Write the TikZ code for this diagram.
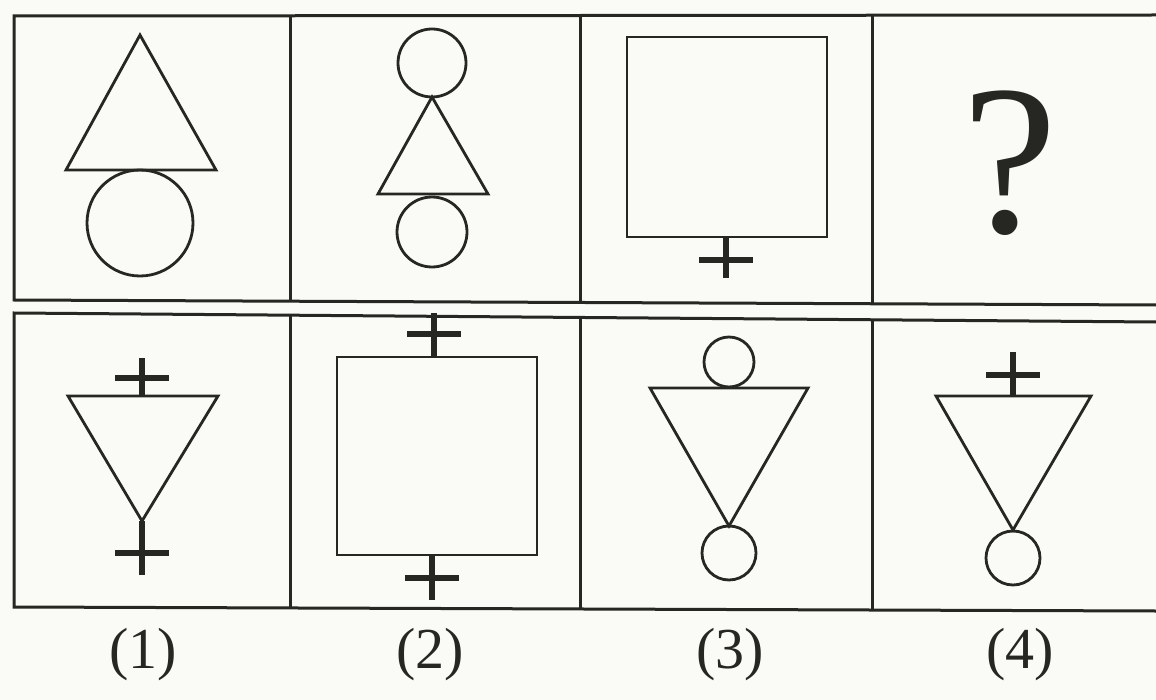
\documentclass[tikz,border=0pt]{standalone}
\usepackage{fontspec}
\setmainfont{Liberation Serif}
\definecolor{ink}{RGB}{38,38,34}
\definecolor{paper}{RGB}{250,250,247}

\begin{document}
\begin{tikzpicture}[x=0.5pt,y=-0.5pt,
  frame/.style={draw=ink,line width=1.5pt},
  figline/.style={draw=ink,line width=1.4pt},
  plus/.style={draw=ink,line width=3pt},
  lbl/.style={font=\fontsize{29}{30}\selectfont,text=ink}]
  % page
  \fill[paper] (0,0) rectangle (1156,700);
  \useasboundingbox (0,0) rectangle (1156,700);
  % row frames, cut off at the right edge
  \draw[frame] (1156,15) -- (14,16) -- (14,300) -- (1156,305);
  \draw[frame] (1156,322) -- (14,313) -- (14,607) -- (1156,611);
  % column rules: x, row 1 top/bottom, row 2 top/bottom
  \foreach \x/\ya/\yb/\yc/\yd in {290/16/301/315/608,580/16/303/317/609,872/15/304/319/610}{
    \draw[frame] (\x,\ya) -- (\x,\yb);
    \draw[frame] (\x,\yc) -- (\x,\yd);
  }
  % question row
  \draw[figline] (140,35) -- (216,170) -- (66,170) -- cycle;
  \draw[figline] (140,223) circle[radius=53];
  \draw[figline] (432,63) circle[radius=34];
  \draw[figline] (432,97) -- (488,194) -- (378,194) -- cycle;
  \draw[figline] (432,232) circle[radius=35];
  \draw[figline] (627,37) rectangle (827,237);
  \node[font=\fontsize{107}{107}\selectfont,text=ink] (query) at (1010,163) {?};
  % answer row
  \draw[figline] (68,396) -- (218,396) -- (142,521) -- cycle;
  \draw[figline] (337,357) rectangle (537,555);
  \draw[figline] (729,362) circle[radius=25];
  \draw[figline] (650,388) -- (808,388) -- (729,526) -- cycle;
  \draw[figline] (729,553) circle[radius=27];
  \draw[figline] (936,396) -- (1091,396) -- (1013,530) -- cycle;
  \draw[figline] (1013,558) circle[radius=27];
  % plus signs: x, stem start/end, bar
  \foreach \x/\ya/\yb/\yc in {726/237/278/260,142/396/358/378,142/521/575/553,
    434/357/313/334,432/555/600/578,1013/396/352/375}{
    \draw[plus] (\x,\ya) -- (\x,\yb);
    \draw[plus] (\x-27,\yc) -- (\x+27,\yc);
  }
  % option numbers
  \foreach \x/\n in {143/1,430/2,730/3,1020/4}
    \node[lbl] (opt\n) at (\x,655) {(\n)};
\end{tikzpicture}
\end{document}
